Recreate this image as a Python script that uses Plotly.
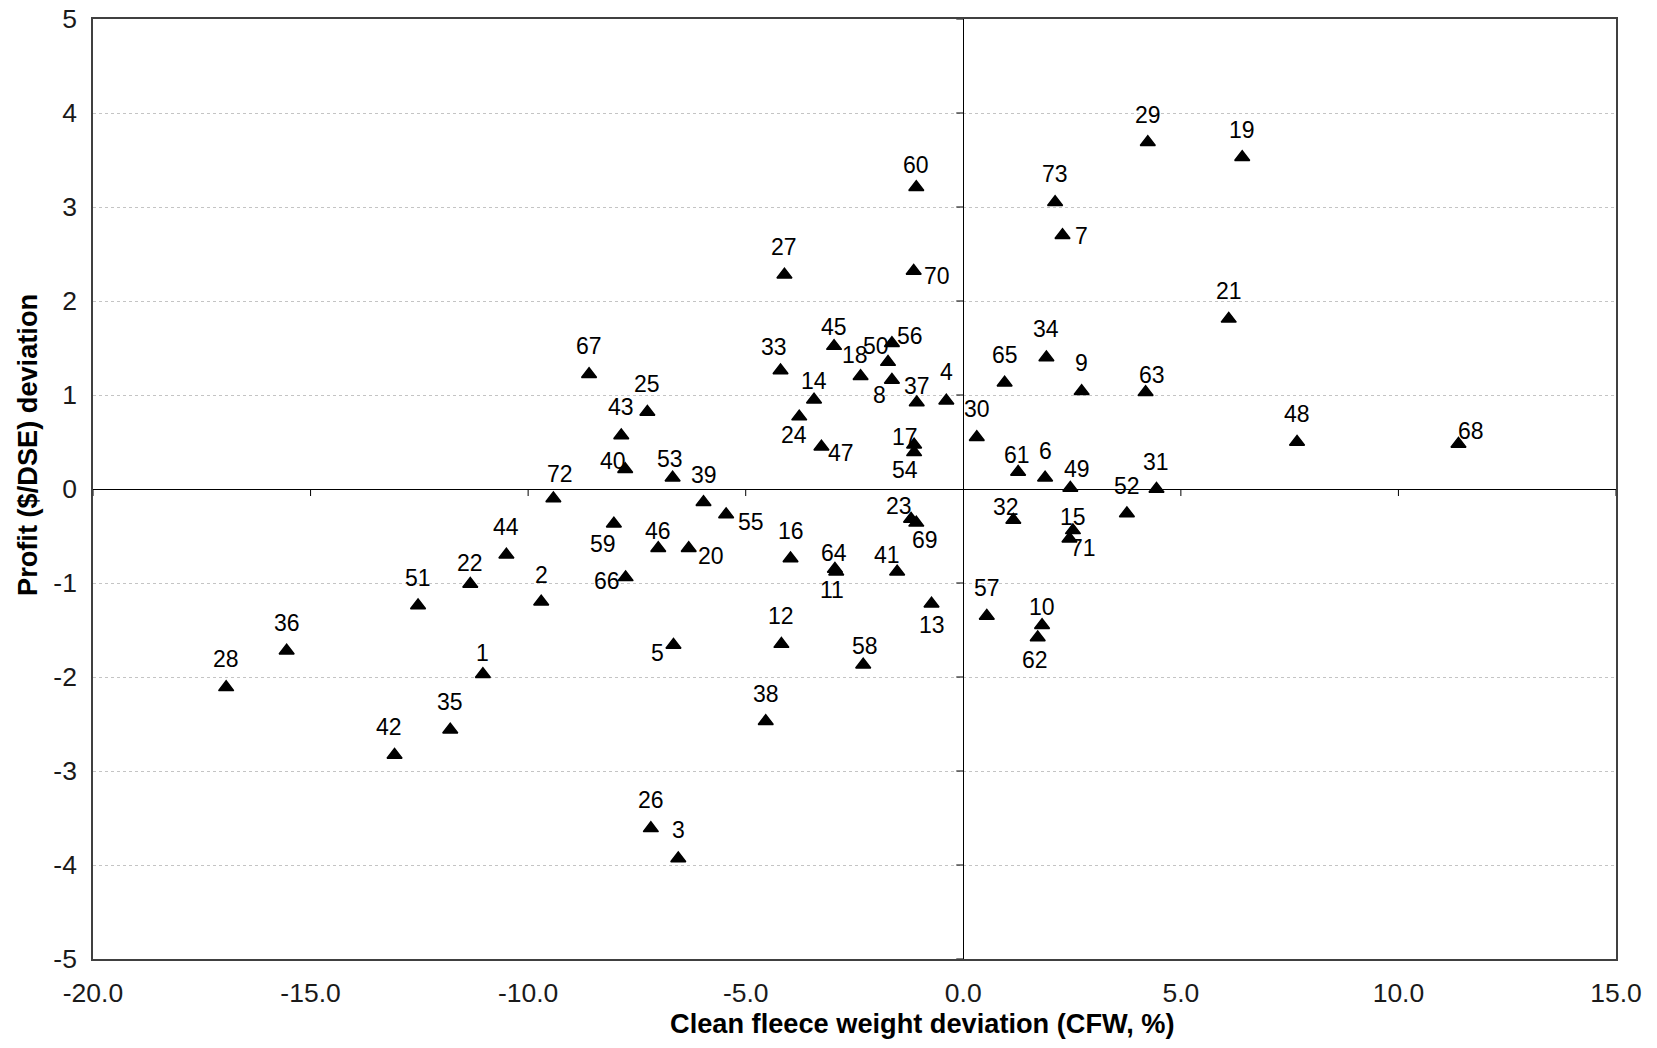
import plotly.graph_objects as go

# ---------------- data ----------------
IDS = list(range(1, 74))
CFW = [-11.04, -9.70, -6.55, -0.39, -6.66, 1.88, 2.28, -1.64, 2.72, 1.81,
       -2.92, -4.18, -0.73, -3.43, 2.52, -3.97, -1.13, -2.36, 6.41, -6.31,
       6.10, -11.33, -1.20, -3.77, -7.26, -7.18, -4.11, -16.94, 4.24, 0.31,
       4.44, 1.15, -4.20, 1.91, -11.79, -15.55, -1.07, -4.54, -5.97, -7.77,
       -1.52, -13.07, -7.86, -10.50, -2.97, -7.01, -3.26, 7.67, 2.46, -1.73,
       -12.53, 3.76, -6.68, -1.13, -5.45, -1.64, 0.54, -2.30, -8.03, -1.08,
       1.26, 1.71, 4.19, -2.95, 0.95, -7.76, -8.60, 11.38, -1.08, -1.14,
       2.44, -9.42, 2.11]
PROFIT = [-1.97, -1.20, -3.93, 0.94, -1.66, 0.12, 2.70, 1.16, 1.04, -1.45,
          -0.88, -1.65, -1.22, 0.95, -0.44, -0.74, 0.47, 1.20, 3.53, -0.63,
          1.81, -1.01, -0.32, 0.77, 0.82, -3.61, 2.28, -2.11, 3.69, 0.55,
          0.00, -0.33, 1.26, 1.40, -2.56, -1.72, 0.92, -2.47, -0.14, 0.21,
          -0.88, -2.83, 0.57, -0.70, 1.52, -0.63, 0.45, 0.50, 0.01, 1.35,
          -1.24, -0.26, 0.12, 0.39, -0.27, 1.55, -1.35, -1.87, -0.37, 3.21,
          0.18, -1.58, 1.03, -0.85, 1.13, -0.94, 1.22, 0.48, -0.36, 2.32,
          -0.53, -0.10, 3.05]
X_TICKS = [-20, -15, -10, -5, 0, 5, 10, 15]
X_TICK_LABELS = ["-20.0", "-15.0", "-10.0", "-5.0", "0.0", "5.0", "10.0", "15.0"]
Y_TICKS = [-5, -4, -3, -2, -1, 0, 1, 2, 3, 4, 5]
Y_TICK_LABELS = ["-5", "-4", "-3", "-2", "-1", "0", "1", "2", "3", "4", "5"]
X_TITLE = "Clean fleece weight deviation (CFW, %)"
Y_TITLE = "Profit ($/DSE) deviation"

# label placement (pixel offsets of each label from its marker; +dy = down)
LABEL_DX = [0, 0, 0, 0, -16, 0, 19, -12, 0, 0,
            -4, 0, 0, 0, 0, 0, -9, -6, 0, 22,
            0, 0, -12, -5, 0, 0, 0, 0, 0, 0,
            0, -7, -7, 0, 0, 0, 0, 0, 0, -12,
            -10, -6, 0, 0, 0, 0, 20, 0, 7, -12,
            0, 0, -3, -9, 25, 18, 0, 2, -11, 0,
            -1, -3, 6, -1, 0, -19, 0, 13, 9, 23,
            14, 7, 0]
LABEL_DY = [-21, -27, -28, -29, 8, -27, 1, 15, -28, -18,
            18, -28, 21, -19, -13, -28, -8, -21, -27, 8,
            -28, -21, -13, 18, -28, -28, -28, -28, -27, -28,
            -27, -13, -24, -28, -28, -28, -17, -27, -27, -8,
            -17, -28, -28, -28, -19, -17, 6, -28, -19, -16,
            -28, -27, -19, 18, 8, -7, -28, -19, 20, -22,
            -17, 22, -17, -16, -28, 4, -28, -13, 17, 5,
            9, -24, -28]

# ---------------- layout constants ----------------
BODY = 8                      # default <body> margin of the html page
W, H = 1657 - 2 * BODY, 1048 - 2 * BODY
ML, MR, MT, MB = 93 - BODY, 1657 - 1616 - BODY, 19 - BODY, 1048 - 959 - BODY
PW, PH = W - ML - MR, H - MT - MB
FONT = "Liberation Sans, Arial, Helvetica, sans-serif"


def paper_x(px):
    return (px - BODY - ML) / PW


def paper_y(py):
    return (MT + PH - (py - BODY)) / PH


fig = go.Figure()
fig.add_trace(go.Scatter(
    x=CFW, y=PROFIT, mode="markers",
    marker=dict(symbol="triangle-up", size=13, color="black",
                line=dict(color="black", width=1.5)),
    text=[str(i) for i in IDS], hoverinfo="text", showlegend=False,
))

annotations = []
for i, xv, yv, dx, dy in zip(IDS, CFW, PROFIT, LABEL_DX, LABEL_DY):
    annotations.append(dict(
        x=xv, y=yv, xref="x", yref="y", text=str(i), showarrow=False,
        xshift=dx, yshift=-dy, xanchor="center", yanchor="middle",
        font=dict(family=FONT, size=23, color="black"),
    ))

# axis titles
annotations.append(dict(
    x=paper_x(922), y=paper_y(1024), xref="paper", yref="paper",
    text="<b>" + X_TITLE + "</b>", showarrow=False,
    xanchor="center", yanchor="middle",
    font=dict(family=FONT, size=27.2, color="black"),
))
annotations.append(dict(
    x=paper_x(27), y=paper_y(445), xref="paper", yref="paper",
    text="<b>" + Y_TITLE + "</b>", showarrow=False, textangle=-90,
    xanchor="center", yanchor="middle",
    font=dict(family=FONT, size=27.2, color="black"),
))

# tick marks sitting on the zero lines (Excel-style crossing axes)
shapes = []
for t in X_TICKS:
    if t == 0:
        continue
    shapes.append(dict(type="line", xref="x", yref="y", ysizemode="pixel",
                       yanchor=0, x0=t, x1=t, y0=0, y1=-7,
                       line=dict(color="black", width=1)))
for t in Y_TICKS:
    if t == 0:
        continue
    shapes.append(dict(type="line", xref="x", yref="y", xsizemode="pixel",
                       xanchor=0, x0=-7, x1=0, y0=t, y1=t,
                       line=dict(color="black", width=1)))

fig.update_layout(
    template="none",
    width=W, height=H, autosize=False,
    margin=dict(l=ML, r=MR, t=MT, b=MB, pad=0, autoexpand=False),
    paper_bgcolor="white", plot_bgcolor="white",
    font=dict(family=FONT, color="black"),
    annotations=annotations, shapes=shapes,
    xaxis=dict(
        range=[X_TICKS[0], X_TICKS[-1]], tickvals=X_TICKS,
        ticktext=X_TICK_LABELS,
        ticks="", showgrid=False, automargin=False,
        zeroline=True, zerolinecolor="black", zerolinewidth=1,
        showline=True, mirror=True, linecolor="#404040", linewidth=1.5,
        tickfont=dict(family=FONT, size=26.5, color="#1a1a1a"),
        ticklabelstandoff=9, ticklabeloverflow="allow", fixedrange=True,
    ),
    yaxis=dict(
        range=[Y_TICKS[0], Y_TICKS[-1]], tickvals=Y_TICKS,
        ticktext=Y_TICK_LABELS,
        ticks="", showgrid=True, gridcolor="#c4c4c4", griddash="dot",
        gridwidth=1, automargin=False,
        zeroline=True, zerolinecolor="black", zerolinewidth=1,
        showline=True, mirror=True, linecolor="#404040", linewidth=1.5,
        tickfont=dict(family=FONT, size=26.5, color="#1a1a1a"),
        ticklabelstandoff=9, ticklabeloverflow="allow", fixedrange=True,
    ),
)

fig.write_html("out.html")
